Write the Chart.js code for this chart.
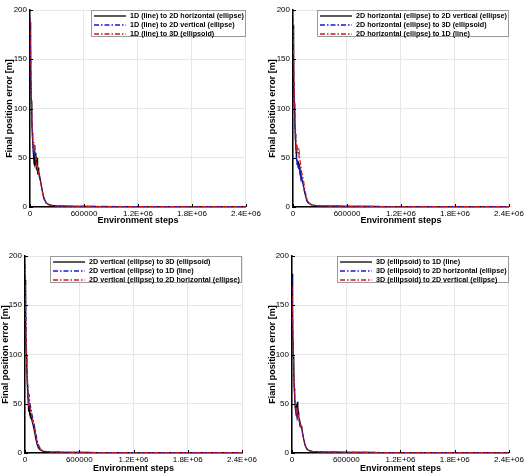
<!DOCTYPE html>
<html>
<head>
<meta charset="utf-8">
<script src="https://cdn.jsdelivr.net/npm/chart.js@4/dist/chart.umd.min.js"></script>
<style>
  html, body { margin: 0; padding: 0; background: #fff; }
  #wrap { position: relative; width: 526px; height: 475px; background: #fff; overflow: hidden; }
  canvas { position: absolute; }
</style>
</head>
<body>
<div id="wrap">
  <canvas id="c1" width="263" height="237" style="left:0px;top:0px;"></canvas>
  <canvas id="c2" width="263" height="237" style="left:263px;top:0px;"></canvas>
  <canvas id="c3" width="263" height="238" style="left:0px;top:237px;"></canvas>
  <canvas id="c4" width="263" height="238" style="left:263px;top:237px;"></canvas>
</div>
<script>
// ---------- DATA ----------
const steps = [0, 5000, 10000, 15000, 20000, 25000, 30000, 35000, 40000, 45000, 50000, 55000, 60000, 65000, 70000, 75000, 80000, 85000, 90000, 95000, 100000, 110000, 120000, 130000, 140000, 150000, 160000, 170000, 180000, 190000, 200000, 220000, 240000, 260000, 280000, 300000, 350000, 400000, 500000, 600000, 800000, 1000000, 1200000, 1400000, 1600000, 1800000, 2000000, 2200000, 2400000];

const xTickValues = [0, 600000, 1200000, 1800000, 2400000];
const xTickLabels = ['0', '600000', '1.2E+06', '1.8E+06', '2.4E+06'];
const yTickValues = [0, 50, 100, 150, 200];

// Panel 1
const p1Labels = ['1D (line) to 2D horizontal (ellipse)', '1D (line) to 2D vertical (ellipse)', '1D (line) to 3D (ellipsoid)'];
const p1Black = [188,160,132,108,90,76,66,58,50,44,53,42,55,46,48,37,50,33,40,34,36,30,25,20,15,11,8,6,4.5,3.5,3,2.2,1.8,1.5,1.3,1.1,0.9,0.8,0.7,0.6,0.5,0.5,0.4,0.4,0.4,0.4,0.3,0.3,0.3];
const p1Blue  = [192,165,136,110,92,78,67,60,54,56,52,55,50,47,45,42,40,37,35,33,32,28,24,19,14,10,7,5,4,3,2.5,2,1.7,1.4,1.2,1,0.9,0.8,0.7,0.6,0.6,0.5,0.5,0.4,0.4,0.4,0.4,0.3,0.3];
const p1Red   = [190,168,138,112,95,80,70,62,60,66,58,63,52,48,50,40,44,36,38,34,33,29,24,19,14,10,7,5,4,3.2,2.6,2,1.7,1.4,1.2,1,0.9,0.8,0.7,0.6,0.5,0.5,0.5,0.4,0.4,0.4,0.4,0.3,0.3];

// Panel 2
const p2Labels = ['2D horizontal (ellipse) to 2D vertical (ellipse)', '2D horizontal (ellipse) to 3D (ellipsoid)', '2D horizontal (ellipse) to 1D (line)'];
const p2Black = [185,155,128,105,88,74,64,56,50,46,47,44,45,41,42,38,36,33,31,29,28,24,20,15,11,8,6,4.5,3.5,3,2.5,2,1.7,1.5,1.3,1.1,1,0.9,0.8,0.7,0.6,0.5,0.5,0.5,0.4,0.4,0.4,0.4,0.4];
const p2Blue  = [180,152,125,102,86,72,62,52,46,42,48,40,44,38,42,35,37,30,33,27,28,23,19,14,10,7,5,4,3.2,2.7,2.3,1.9,1.6,1.4,1.2,1.1,1,0.9,0.8,0.7,0.6,0.5,0.5,0.5,0.4,0.4,0.4,0.4,0.4];
const p2Red   = [192,170,142,118,100,86,75,66,58,63,55,60,54,52,55,48,46,42,40,36,34,30,25,19,14,10,7,5,4,3.3,2.7,2.1,1.8,1.5,1.3,1.1,1,0.9,0.8,0.7,0.6,0.5,0.5,0.5,0.4,0.4,0.4,0.4,0.4];

// Panel 3
const p3Labels = ['2D vertical (ellipse) to 3D (ellipsoid)', '2D vertical (ellipse) to 1D (line)', '2D vertical (ellipse) to 2D horizontal (ellipse)'];
const p3Black = [176,150,124,100,84,70,60,52,42,48,38,45,36,40,34,36,31,30,28,26,24,19,14,10,7,5,3.8,3,2.5,2.1,1.8,1.5,1.3,1.1,1,0.9,0.8,0.7,0.6,0.6,0.5,0.5,0.4,0.4,0.4,0.4,0.4,0.3,0.3];
const p3Blue  = [192,166,138,112,94,80,68,60,56,60,54,50,48,46,44,40,38,36,34,32,30,25,20,15,11,8,6,4.5,3.5,2.8,2.3,1.8,1.5,1.3,1.1,1,0.9,0.8,0.7,0.6,0.5,0.5,0.5,0.4,0.4,0.4,0.4,0.3,0.3];
const p3Red   = [170,150,126,104,88,74,64,56,50,52,48,46,44,42,40,38,36,34,32,30,28,23,18,13,9,7,5,4,3.2,2.6,2.2,1.8,1.5,1.3,1.1,1,0.9,0.8,0.7,0.6,0.5,0.5,0.5,0.4,0.4,0.4,0.4,0.3,0.3];

// Panel 4
const p4Labels = ['3D (ellipsoid) to 1D (line)', '3D (ellipsoid) to 2D horizontal (ellipse)', '3D (ellipsoid) to 2D vertical (ellipse)'];
const p4Black = [182,150,122,98,80,66,56,48,42,40,50,38,52,40,42,36,34,30,28,29,27,24,19,14,10,7,5,3.8,3,2.5,2.1,1.8,1.5,1.3,1.2,1.1,1,0.9,0.8,0.7,0.6,0.5,0.5,0.5,0.4,0.4,0.4,0.4,0.4];
const p4Blue  = [178,148,120,97,80,66,55,47,42,38,44,37,40,36,38,34,32,29,27,28,26,23,18,13,9,6.5,4.5,3.5,2.8,2.3,2,1.7,1.5,1.3,1.2,1.1,1,0.9,0.8,0.7,0.6,0.5,0.5,0.5,0.4,0.4,0.4,0.4,0.4];
const p4Red   = [170,145,120,98,82,68,58,50,45,42,46,40,43,38,40,35,33,30,28,29,27,23,18,13,9,6.5,4.5,3.5,2.8,2.3,2,1.7,1.5,1.3,1.2,1.1,1,0.9,0.8,0.7,0.6,0.5,0.5,0.5,0.4,0.4,0.4,0.4,0.4];

const xTitle = 'Environment steps';
const yTitles = ['Final position error [m]', 'Final position error [m]', 'Final position error [m]', 'Fianl position error [m]'];

// ---------- RENDER ----------
const FONT = '"Liberation Sans", Arial, Helvetica, sans-serif';
const COLORS = ['#000000', '#1a1acc', '#cc1a1a'];
const DASHES = [[], [5, 2, 1.5, 2], [5, 2, 1.5, 2]];

const insideTicks = {
  id: 'insideTicks',
  afterDatasetsDraw(chart) {
    const ctx = chart.ctx, a = chart.chartArea;
    const xs = chart.scales.x, ys = chart.scales.y;
    ctx.save();
    ctx.strokeStyle = '#000';
    ctx.lineWidth = 1;
    ctx.beginPath();
    xs.ticks.forEach(t => {
      const px = Math.round(xs.getPixelForValue(t.value)) + 0.5;
      ctx.moveTo(px, a.bottom); ctx.lineTo(px, a.bottom - 3);
    });
    ys.ticks.forEach(t => {
      const py = Math.round(ys.getPixelForValue(t.value)) + 0.5;
      ctx.moveTo(a.left, py); ctx.lineTo(a.left + 3, py);
    });
    ctx.stroke();
    ctx.restore();
  }
};

const boxLegend = {
  id: 'boxLegend',
  afterDraw(chart) {
    const ctx = chart.ctx, a = chart.chartArea;
    const ds = chart.data.datasets;
    ctx.save();
    ctx.font = 'bold 7.2px ' + FONT;
    const tw = Math.max(...ds.map(d => ctx.measureText(d.label).width));
    const w = Math.round(tw + 41), h = 27;
    const left = Math.round(a.right) - w, top = Math.round(a.top);
    ctx.fillStyle = '#fff';
    ctx.fillRect(left, top, w, h);
    ctx.strokeStyle = '#9a9a9a';
    ctx.lineWidth = 1;
    ctx.strokeRect(left + 0.5, top + 0.5, w - 1, h - 1);
    ds.forEach((d, i) => {
      const yy = top + 6 + i * 9;
      ctx.strokeStyle = d.borderColor;
      ctx.lineWidth = 1.3;
      ctx.setLineDash(d.borderDash || []);
      ctx.beginPath(); ctx.moveTo(left + 3, yy); ctx.lineTo(left + 35, yy); ctx.stroke();
      ctx.setLineDash([]);
      ctx.fillStyle = '#000';
      ctx.textBaseline = 'middle';
      ctx.textAlign = 'left';
      ctx.fillText(d.label, left + 39, yy + 0.5);
    });
    ctx.restore();
  }
};

function makeChart(id, labels, series, yTitle, geo) {
  const datasets = series.map((vals, i) => ({
    label: labels[i],
    data: steps.map((s, k) => ({ x: s, y: vals[k] })),
    borderColor: COLORS[i],
    borderDash: DASHES[i],
    borderWidth: 1.2,
    pointRadius: 0,
    tension: 0,
    fill: false,
    order: 3 - i
  }));
  return new Chart(document.getElementById(id), {
    type: 'line',
    data: { datasets },
    plugins: [insideTicks, boxLegend],
    options: {
      responsive: false,
      animation: false,
      devicePixelRatio: 1,
      layout: { padding: { top: geo.top, right: geo.right, bottom: geo.bottom, left: 0 } },
      plugins: { legend: { display: false }, tooltip: { enabled: false } },
      scales: {
        x: {
          type: 'linear', min: 0, max: 2400000,
          afterBuildTicks: s => { s.ticks = xTickValues.map(v => ({ value: v })); },
          afterFit: s => { s.height = geo.xh; },
          ticks: {
            autoSkip: false, maxRotation: 0, padding: 2, color: '#000',
            font: { family: FONT, size: 8 },
            callback: (v, i) => xTickLabels[i]
          },
          grid: { color: '#e6e6e6', lineWidth: 1, drawTicks: false },
          border: { color: '#000', width: 1.5 },
          title: { display: true, text: xTitle, color: '#000', padding: { top: 0, bottom: 0 },
                   font: { family: FONT, size: 9, weight: 'bold' } }
        },
        y: {
          type: 'linear', min: 0, max: 200,
          afterBuildTicks: s => { s.ticks = yTickValues.map(v => ({ value: v })); },
          afterFit: s => { s.width = geo.left; },
          ticks: { padding: 3, color: '#000', font: { family: FONT, size: 8 } },
          grid: { color: '#e6e6e6', lineWidth: 1, drawTicks: false },
          border: { color: '#000', width: 1.5 },
          title: { display: true, text: yTitle, color: '#000', padding: { top: geo.ytp, bottom: 0 },
                   font: { family: FONT, size: 9, weight: 'bold' } }
        }
      }
    }
  });
}

makeChart('c1', p1Labels, [p1Black, p1Blue, p1Red], yTitles[0], { top: 10, right: 16, bottom: 11, xh: 19, left: 30, ytp: 4 });
makeChart('c2', p2Labels, [p2Black, p2Blue, p2Red], yTitles[1], { top: 10, right: 16, bottom: 11, xh: 19, left: 30, ytp: 4 });
makeChart('c3', p3Labels, [p3Black, p3Blue, p3Red], yTitles[2], { top: 19, right: 21, bottom: 1, xh: 21, left: 25, ytp: 0 });
makeChart('c4', p4Labels, [p4Black, p4Blue, p4Red], yTitles[3], { top: 19, right: 17, bottom: 1, xh: 21, left: 29, ytp: 4 });
</script>
</body>
</html>
